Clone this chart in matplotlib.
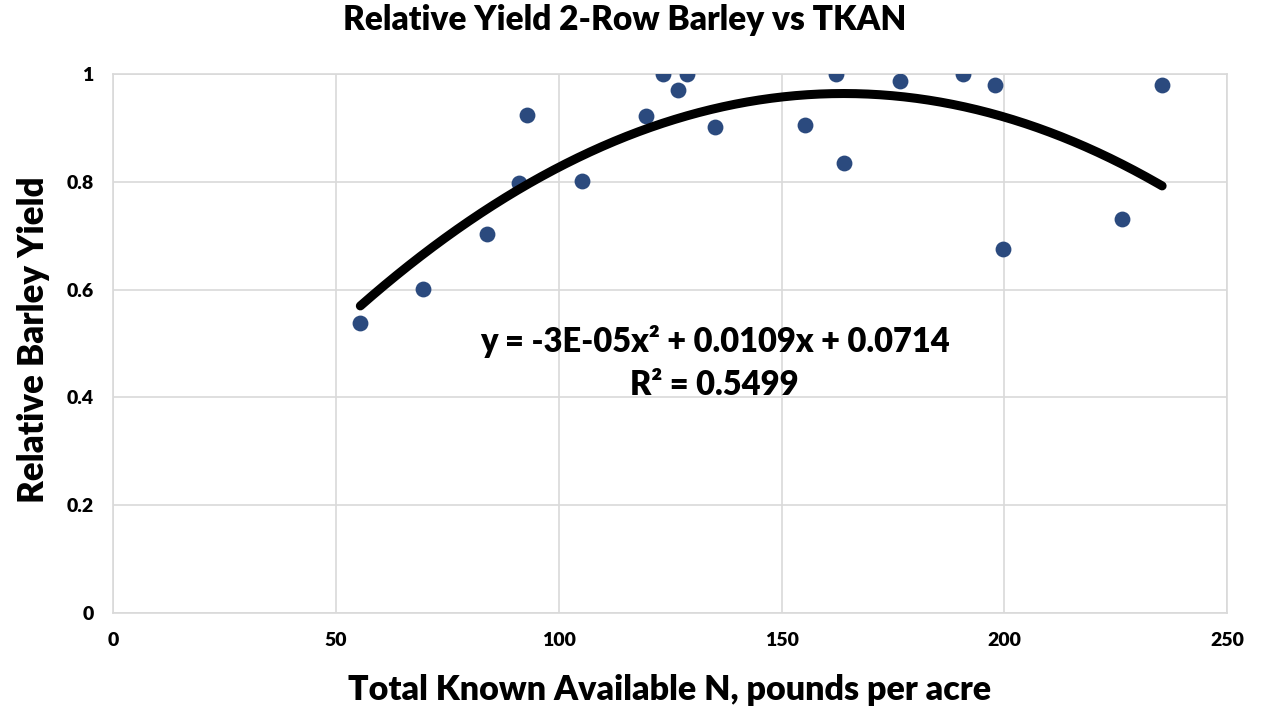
import numpy as np
import matplotlib
matplotlib.use("Agg")
import matplotlib.pyplot as plt

# data
tkan = [55.5, 69.6, 84.0, 91.0, 93.0, 105.3, 119.7, 123.3, 126.7, 128.7,
        135.0, 155.2, 162.3, 164.1, 176.5, 190.8, 197.8, 199.8, 226.5, 235.4]
rel_yield = [0.538, 0.601, 0.703, 0.798, 0.924, 0.801, 0.922, 1.0, 0.970, 1.0,
             0.902, 0.905, 1.0, 0.835, 0.987, 1.0, 0.980, 0.675, 0.731, 0.980]
x_ticks = [0, 50, 100, 150, 200, 250]
y_ticks = [0, 0.2, 0.4, 0.6, 0.8, 1]
y_tick_labels = ["0", "0.2", "0.4", "0.6", "0.8", "1"]

plt.rcParams['font.family'] = ['Lato', 'DejaVu Sans']
plt.rcParams['font.weight'] = 'heavy'

fig = plt.figure(figsize=(12.81, 7.11), dpi=100)
ax = fig.add_axes([0.0882, 0.1378, 0.958 - 0.0882, 0.896 - 0.1378])

ax.scatter(tkan, rel_yield, s=130, color='#2B4A7E', zorder=3, linewidths=0)

# quadratic trendline
coef = np.polyfit(tkan, rel_yield, 2)
xs = np.linspace(min(tkan), max(tkan), 200)
ax.plot(xs, np.polyval(coef, xs), color='black', lw=6.5, solid_capstyle='round', zorder=4)

ax.set_xlim(0, 250)
ax.set_ylim(0, 1)
ax.set_xticks(x_ticks)
ax.set_yticks(y_ticks)
ax.set_yticklabels(y_tick_labels)
ax.tick_params(length=0, labelsize=14, pad=14)
ax.tick_params(axis='x', pad=14)
for lab in ax.get_xticklabels() + ax.get_yticklabels():
    lab.set_fontweight('heavy')
ax.grid(True, color='#D9D9D9', lw=1.2)
ax.set_axisbelow(True)
for s in ax.spines.values():
    s.set_color('#D9D9D9')
    s.set_linewidth(1.2)

fig.text(0.488, 0.972, "Relative Yield 2-Row Barley vs TKAN", ha='center', va='center',
         fontsize=24, fontweight='heavy')
fig.text(0.523, 0.030, "Total Known Available N, pounds per acre", ha='center', va='center',
         fontsize=24.5, fontweight='heavy')
fig.text(0.026, 0.522, "Relative Barley Yield", ha='center', va='center', rotation=90,
         fontsize=25, fontweight='heavy')

ax.text(135, 0.503, "y = -3E-05x² + 0.0109x + 0.0714", ha='center', va='center',
        fontsize=23.5, fontweight='heavy')
ax.text(135, 0.423, "R² = 0.5499", ha='center', va='center',
        fontsize=23.5, fontweight='heavy')

fig.savefig("out.png", dpi=100)
